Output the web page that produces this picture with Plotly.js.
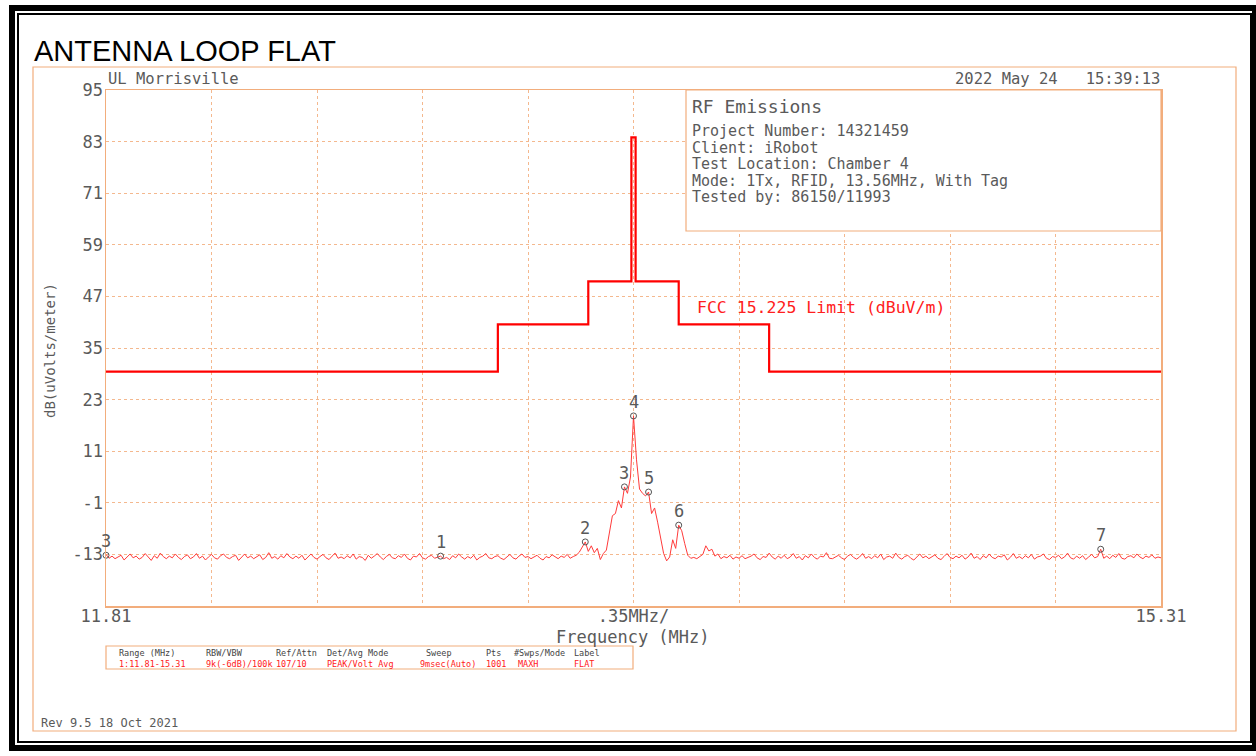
<!DOCTYPE html>
<html><head><meta charset="utf-8">
<script src="https://cdn.plot.ly/plotly-3.0.1.min.js"></script>
<style>html,body{margin:0;padding:0;background:#fff;overflow:hidden;} #chart{width:1256px;height:756px;}</style>
</head><body><div id="chart"></div>
<script>
// ---------------- DATA ----------------
const freqStart = 11.81;
const freqStop = 15.31;
const traceLevels = [
-13.0,-13.9,-13.4,-14.0,-13.6,-13.2,-14.3,-13.5,-12.9,-13.8,
-13.4,-14.1,-13.7,-12.8,-13.6,-14.4,-13.3,-13.9,-12.7,-13.5,
-14.0,-13.4,-13.8,-12.9,-13.7,-14.2,-13.5,-13.1,-14.0,-13.6,
-12.8,-13.9,-13.4,-14.3,-13.6,-13.0,-13.8,-14.1,-13.3,-12.9,
-13.7,-14.0,-13.5,-13.2,-14.4,-13.6,-12.9,-13.8,-13.4,-14.0,
-13.6,-13.1,-14.2,-13.7,-12.6,-13.9,-13.5,-14.1,-13.3,-13.8,
-12.8,-13.6,-14.0,-13.4,-13.9,-13.2,-14.3,-13.6,-12.9,-13.7,
-14.1,-13.5,-13.0,-13.8,-14.2,-13.4,-12.7,-13.9,-13.6,-14.0,
-13.3,-13.8,-12.9,-14.1,-13.5,-13.7,-14.4,-13.2,-13.9,-13.4,
-12.8,-13.6,-14.2,-13.5,-13.0,-13.8,-14.0,-13.3,-13.7,-12.9,
-13.9,-14.3,-13.4,-13.6,-12.8,-13.8,-14.1,-13.5,-13.2,-13.9,
-13.6,-13.4,-14.0,-13.7,-14.2,-13.3,-13.8,-12.9,-13.6,-14.1,
-13.5,-13.9,-13.2,-14.3,-13.7,-13.4,-12.8,-13.8,-14.0,-13.5,
-13.3,-13.9,-14.2,-13.6,-13.0,-13.8,-14.1,-13.4,-12.9,-13.7,
-13.5,-14.0,-13.6,-13.2,-13.9,-14.3,-13.5,-13.8,-13.1,-13.6,
-14.0,-13.4,-13.7,-13.0,-13.9,-13.5,-13.2,-12.5,-11.4,-10.1,
-12.3,-11.0,-12.6,-11.6,-14.2,-12.8,-12.0,-7.5,-4.0,-3.5,
-0.5,-2.2,2.7,1.2,5.0,19.2,9.0,2.2,1.2,0.6,
1.5,-3.5,-2.2,-5.5,-9.5,-12.8,-14.5,-13.6,-9.6,-11.6,
-6.2,-7.5,-10.5,-13.2,-13.9,-13.7,-14.0,-13.6,-13.0,-11.0,
-12.2,-11.8,-13.4,-12.9,-14.0,-13.5,-13.8,-13.2,-14.1,-13.6,
-13.9,-13.3,-14.0,-13.7,-13.4,-12.9,-13.8,-14.2,-13.5,-13.7,
-12.7,-13.6,-14.1,-13.4,-13.9,-13.2,-14.0,-13.6,-12.8,-13.9,
-13.5,-14.3,-13.3,-13.8,-12.9,-13.7,-14.1,-13.4,-13.6,-12.6,
-13.9,-14.0,-13.5,-13.2,-13.8,-14.2,-13.4,-13.0,-13.7,-14.1,
-13.6,-12.8,-13.9,-13.5,-14.0,-13.3,-13.8,-12.9,-14.2,-13.6,
-13.4,-13.9,-12.7,-13.7,-14.1,-13.5,-13.2,-13.9,-14.3,-13.6,
-12.9,-13.8,-13.4,-14.0,-13.6,-13.1,-13.9,-14.2,-13.5,-12.8,
-13.7,-14.0,-13.4,-13.8,-13.2,-14.1,-13.6,-12.7,-13.9,-13.5,
-14.2,-13.3,-13.8,-12.9,-13.7,-14.0,-13.4,-13.6,-13.1,-14.3,
-13.7,-12.8,-13.9,-13.5,-14.0,-13.3,-13.8,-13.0,-14.1,-13.6,
-13.4,-12.9,-13.9,-14.2,-13.5,-13.7,-13.2,-14.0,-13.6,-12.7,
-13.8,-14.1,-13.4,-13.9,-13.3,-14.2,-13.6,-13.0,-13.8,-13.5,
-11.8,-13.9,-13.4,-14.0,-13.2,-13.7,-12.8,-13.9,-14.1,-13.5,
-13.3,-13.8,-12.9,-13.6,-14.0,-13.4,-13.7,-13.1,-13.9,-13.6,
-13.8
];
const limitFreqs  = [11.81, 13.11, 13.41, 13.553, 13.567, 13.71, 14.01, 15.31];
const limitLevels = [29.5,  40.5,  50.5,  84.0,   50.5,   40.5,  29.5,  29.5];
const markerLabels = ['3', '1', '2', '3', '4', '5', '6', '7'];
const markerFreqs  = [11.81, 12.92, 13.40, 13.53, 13.56, 13.61, 13.71, 15.11];
const markerLevels = [-13.2, -13.4, -10.1, 2.7, 19.2, 1.5, -6.2, -11.8];
const yTicks = [-13, -1, 11, 23, 35, 47, 59, 71, 83, 95];
const xTickLabels = ['11.81', '', '', '', '', '.35MHz/', '', '', '', '', '15.31'];
const infoTitle = 'RF Emissions';
const infoLines = ['Project Number: 14321459', 'Client: iRobot', 'Test Location: Chamber 4',
                   'Mode: 1Tx, RFID, 13.56MHz, With Tag', 'Tested by: 86150/11993'];
const tableHeaders = ['Range (MHz)', 'RBW/VBW', 'Ref/Attn', 'Det/Avg Mode', 'Sweep', 'Pts', '#Swps/Mode', 'Label'];
const tableValues  = ['1:11.81-15.31', '9k(-6dB)/100k', '107/10', 'PEAK/Volt Avg', '9msec(Auto)', '1001', 'MAXH', 'FLAT'];

// ---------------- LAYOUT HELPERS ----------------
const W = 1256, H = 756;
const M = {l: 106, r: 95, t: 90, b: 150};
const PW = W - M.l - M.r, PH = H - M.t - M.b;
const px = x => (x - M.l) / PW;
const py = y => (M.t + PH - y) / PH;
const MONO = 'DejaVu Sans Mono, monospace';
const GREY = '#5a5a5a';
const ORANGE = '#f2ad7c';
const GRID = '#f4b88e';

const n = traceLevels.length;
const traceFreqs = traceLevels.map((_, i) => freqStart + i * (freqStop - freqStart) / (n - 1));
const xTickVals = xTickLabels.map((_, k) => freqStart + k * (freqStop - freqStart) / (xTickLabels.length - 1));

function T(text, x, y, o = {}) {
  return Object.assign({
    text: text, xref: 'paper', yref: 'paper', x: px(x), y: py(y),
    xanchor: o.xa || 'left', yanchor: 'middle', showarrow: false,
    font: {family: o.family || MONO, size: o.size || 15, color: o.color || GREY}
  }, o.extra || {});
}

const annotations = [];
annotations.push(T('ANTENNA LOOP FLAT', 32, 51, {family: 'Liberation Sans, Arial, sans-serif', size: 29, color: '#000'}));
annotations.push(T('UL Morrisville', 106, 79, {size: 15.5}));
annotations.push(T('2022 May 24   15:39:13', 1162, 79, {size: 15.5, xa: 'right'}));
annotations.push(T(infoTitle, 690, 106, {size: 18}));
infoLines.forEach((t, i) => annotations.push(T(t, 690, 131 + i * 16.6, {size: 15})));
annotations.push(T('FCC 15.225 Limit (dBuV/m)', 695, 307, {size: 16.5, color: '#ff2020'}));
annotations.push(T('Frequency (MHz)', 633, 637, {size: 17, xa: 'center'}));
annotations.push(T('dB(uVolts/meter)', 50, 351, {size: 14, xa: 'center', extra: {textangle: -90}}));
annotations.push(T('Rev 9.5 18 Oct 2021', 39, 723, {size: 12}));
const colX = [117, 204, 274, 325, 424, 484, 512, 572];
const valX = [117, 204, 274, 325, 418, 484, 516, 572];
tableHeaders.forEach((t, i) => annotations.push(T(t, colX[i], 653, {size: 8.5, color: '#444'})));
tableValues.forEach((t, i) => annotations.push(T(t, valX[i], 664, {size: 8.5, color: '#ff2020'})));
markerLabels.forEach((t, i) => annotations.push({
  text: t, xref: 'x', yref: 'y', x: markerFreqs[i], y: markerLevels[i],
  yshift: 14, showarrow: false, xanchor: 'center', yanchor: 'middle',
  font: {family: MONO, size: 17, color: GREY}
}));

function rect(x0, y0, x1, y1, color, width, extra = {}) {
  return Object.assign({type: 'rect', xref: 'paper', yref: 'paper',
    x0: px(x0), y0: py(y0), x1: px(x1), y1: py(y1),
    line: {color: color, width: width}}, extra);
}
const shapes = [
  rect(12, 8, 1255, 748, '#000', 6),
  rect(18, 14, 1251, 742, '#000', 2),
  rect(33, 67, 1236, 731, ORANGE, 1.2),
  rect(686, 90, 1161, 231, ORANGE, 1.2, {fillcolor: '#fff', layer: 'above'}),
  rect(106, 646, 633, 669, ORANGE, 1.2)
];

const traces = [
  {x: limitFreqs, y: limitLevels, mode: 'lines', line: {shape: 'hv', color: '#ff0000', width: 2.2}, hoverinfo: 'skip'},
  {x: traceFreqs, y: traceLevels, mode: 'lines', line: {color: '#ff3b3b', width: 1}, hoverinfo: 'skip'},
  {x: markerFreqs, y: markerLevels, mode: 'markers', cliponaxis: false,
   marker: {symbol: 'circle-open', size: 6, color: '#555', line: {width: 1, color: '#555'}}, hoverinfo: 'skip'}
];

const layout = {
  width: W, height: H, margin: M, showlegend: false,
  paper_bgcolor: '#fff', plot_bgcolor: '#fff',
  xaxis: {range: [freqStart, freqStop], tickmode: 'array', tickvals: xTickVals, ticktext: xTickLabels,
          showgrid: true, gridcolor: GRID, griddash: 'dot', gridwidth: 1, zeroline: false,
          showline: true, mirror: true, linecolor: ORANGE, linewidth: 1.5, ticks: '',
          ticklabelstandoff: -6,
          tickfont: {family: MONO, size: 17, color: GREY}},
  yaxis: {range: [-25, 95], tickmode: 'array', tickvals: yTicks, ticktext: yTicks.map(String),
          showgrid: true, gridcolor: GRID, griddash: 'dot', gridwidth: 1, zeroline: false,
          showline: true, mirror: true, linecolor: ORANGE, linewidth: 1.5, ticks: '',
          ticklabelstandoff: -2,
          tickfont: {family: MONO, size: 17, color: GREY}},
  shapes: shapes, annotations: annotations
};
Plotly.newPlot('chart', traces, layout, {staticPlot: true, displayModeBar: false});
</script>
</body></html>
